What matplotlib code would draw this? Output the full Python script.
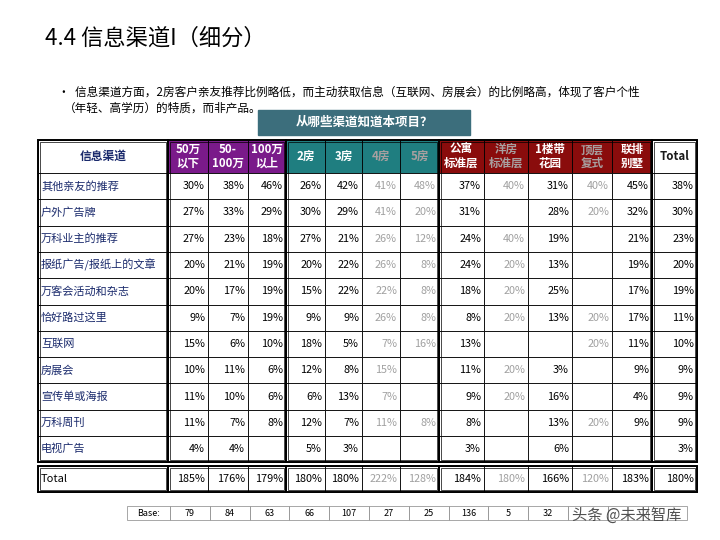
import matplotlib
matplotlib.use("Agg")
import matplotlib.pyplot as plt
from matplotlib.patches import Rectangle

plt.rcParams['font.family'] = ['Noto Sans CJK SC', 'DejaVu Sans']

channels = ["其他亲友的推荐", "户外广告牌", "万科业主的推荐", "报纸广告/报纸上的文章", "万客会活动和杂志",
            "恰好路过这里", "互联网", "房展会", "宣传单或海报", "万科周刊", "电视广告"]
col_labels = ["50万\n以下", "50-\n100万", "100万\n以上", "2房", "3房", "4房", "5房",
              "公寓\n标准层", "洋房\n标准层", "1楼带\n花园", "顶层\n复式", "联排\n别墅", "Total"]
N = None
values = [
    [30, 38, 46, 26, 42, 41, 48, 37, 40, 31, 40, 45, 38],
    [27, 33, 29, 30, 29, 41, 20, 31, N, 28, 20, 32, 30],
    [27, 23, 18, 27, 21, 26, 12, 24, 40, 19, N, 21, 23],
    [20, 21, 19, 20, 22, 26, 8, 24, 20, 13, N, 19, 20],
    [20, 17, 19, 15, 22, 22, 8, 18, 20, 25, N, 17, 19],
    [9, 7, 19, 9, 9, 26, 8, 8, 20, 13, 20, 17, 11],
    [15, 6, 10, 18, 5, 7, 16, 13, N, N, 20, 11, 10],
    [10, 11, 6, 12, 8, 15, N, 11, 20, 3, N, 9, 9],
    [11, 10, 6, 6, 13, 7, N, 9, 20, 16, N, 4, 9],
    [11, 7, 8, 12, 7, 11, 8, 8, N, 13, 20, 9, 9],
    [4, 4, N, 5, 3, N, N, 3, N, 6, N, N, 3],
]
totals = [185, 176, 179, 180, 180, 222, 128, 184, 180, 166, 120, 183, 180]
base = [79, 84, 63, 66, 107, 27, 25, 136, 5, 32]
gray_cols = [5, 6, 8, 10]

fig = plt.figure(figsize=(7.2, 5.4), dpi=100)
ax = fig.add_axes([0, 0, 1, 1])
ax.set_xlim(0, 720); ax.set_ylim(540, 0); ax.axis('off')

ax.text(45, 38, "4.4 信息渠道I（细分）", fontsize=16, va='center')
ax.text(58, 92, "•  信息渠道方面，2房客户亲友推荐比例略低，而主动获取信息（互联网、房展会）的比例略高，体现了客户个性",
        fontsize=8.4, va='center')
ax.text(64, 108, "（年轻、高学历）的特质，而非产品。", fontsize=8.4, va='center')
ax.add_patch(Rectangle((258, 110), 212, 25, color='#3C6E7C'))
ax.text(364, 122.5, "从哪些渠道知道本项目？", color='white', fontsize=9, fontweight='bold', ha='center', va='center')

xs = [38, 168, 208, 248, 286, 325, 362, 400, 439, 484, 528, 572, 612, 652, 697]
groups = [(0, 1), (1, 4), (4, 8), (8, 13), (13, 14)]
hcolors = [None, '#7A1A8A', '#7A1A8A', '#7A1A8A', '#1F7E80', '#1F7E80', '#1F7E80', '#1F7E80',
           '#8A0C0C', '#8A0C0C', '#8A0C0C', '#8A0C0C', '#8A0C0C', None]
yh0, yh1 = 140, 173
rh = 26.3
ydata_end = yh1 + rh * len(channels)
yt0, yt1 = ydata_end + 4, ydata_end + 30

for i in range(14):
    x0, x1 = xs[i], xs[i + 1]
    fc = hcolors[i] or 'white'
    ax.add_patch(Rectangle((x0, yh0), x1 - x0, yh1 - yh0, facecolor=fc, edgecolor='black', lw=0.6))
    if i == 0:
        ax.text((x0 + x1) / 2, (yh0 + yh1) / 2, "信息渠道", fontsize=8.5, color='#1A2A6C', fontweight='bold', ha='center', va='center')
    else:
        lab = col_labels[i - 1]
        c = '#1A1A1A' if hcolors[i] is None else ('#A8A0A0' if (i - 1) in gray_cols else 'white')
        ax.text((x0 + x1) / 2, (yh0 + yh1) / 2, lab, fontsize=8.3, color=c, fontweight='bold',
                ha='center', va='center', linespacing=1.05)

for r, ch in enumerate(channels):
    y0 = yh1 + r * rh
    for i in range(14):
        ax.add_patch(Rectangle((xs[i], y0), xs[i + 1] - xs[i], rh, facecolor='white', edgecolor='black', lw=0.6))
    ax.text(xs[0] + 3, y0 + rh / 2, ch, fontsize=8, color='#1A2A6C', va='center')
    for j, v in enumerate(values[r]):
        if v is None:
            continue
        c = '#A0A0A0' if j in gray_cols else 'black'
        ax.text(xs[j + 2] - 3, y0 + rh / 2, f"{v}%", fontsize=7.8, color=c, ha='right', va='center')

for i in range(14):
    ax.add_patch(Rectangle((xs[i], yt0), xs[i + 1] - xs[i], yt1 - yt0, facecolor='white', edgecolor='black', lw=0.6))
ax.text(xs[0] + 3, (yt0 + yt1) / 2, "Total", fontsize=8, va='center')
for j, v in enumerate(totals):
    c = '#A0A0A0' if j in gray_cols else 'black'
    ax.text(xs[j + 2] - 3, (yt0 + yt1) / 2, f"{v}%", fontsize=7.8, color=c, ha='right', va='center')

for g0, g1 in groups:
    for yy0, yy1 in [(yh0, ydata_end), (yt0, yt1)]:
        ax.add_patch(Rectangle((xs[g0], yy0), xs[g1] - xs[g0], yy1 - yy0, fill=False, edgecolor='black', lw=1.4))
        ax.add_patch(Rectangle((xs[g0] + 2, yy0 + 2), xs[g1] - xs[g0] - 4, yy1 - yy0 - 4, fill=False, edgecolor='black', lw=0.5))

bx = [127, 170] + [170 + 39.8 * (k + 1) for k in range(13)]
by0, by1 = 506, 520
for k in range(len(bx) - 1):
    ax.add_patch(Rectangle((bx[k], by0), bx[k + 1] - bx[k], by1 - by0, fill=False, edgecolor='#999999', lw=0.6))
ax.text((bx[0] + bx[1]) / 2, (by0 + by1) / 2, "Base:", fontsize=6.5, ha='center', va='center')
for k, b in enumerate(base):
    ax.text((bx[k + 1] + bx[k + 2]) / 2, (by0 + by1) / 2, str(b), fontsize=6.5, ha='center', va='center')
ax.text(572, 515, "头条 @未来智库", fontsize=11, color='#333333', va='center', alpha=0.85)

fig.savefig("out.png", dpi=100)
